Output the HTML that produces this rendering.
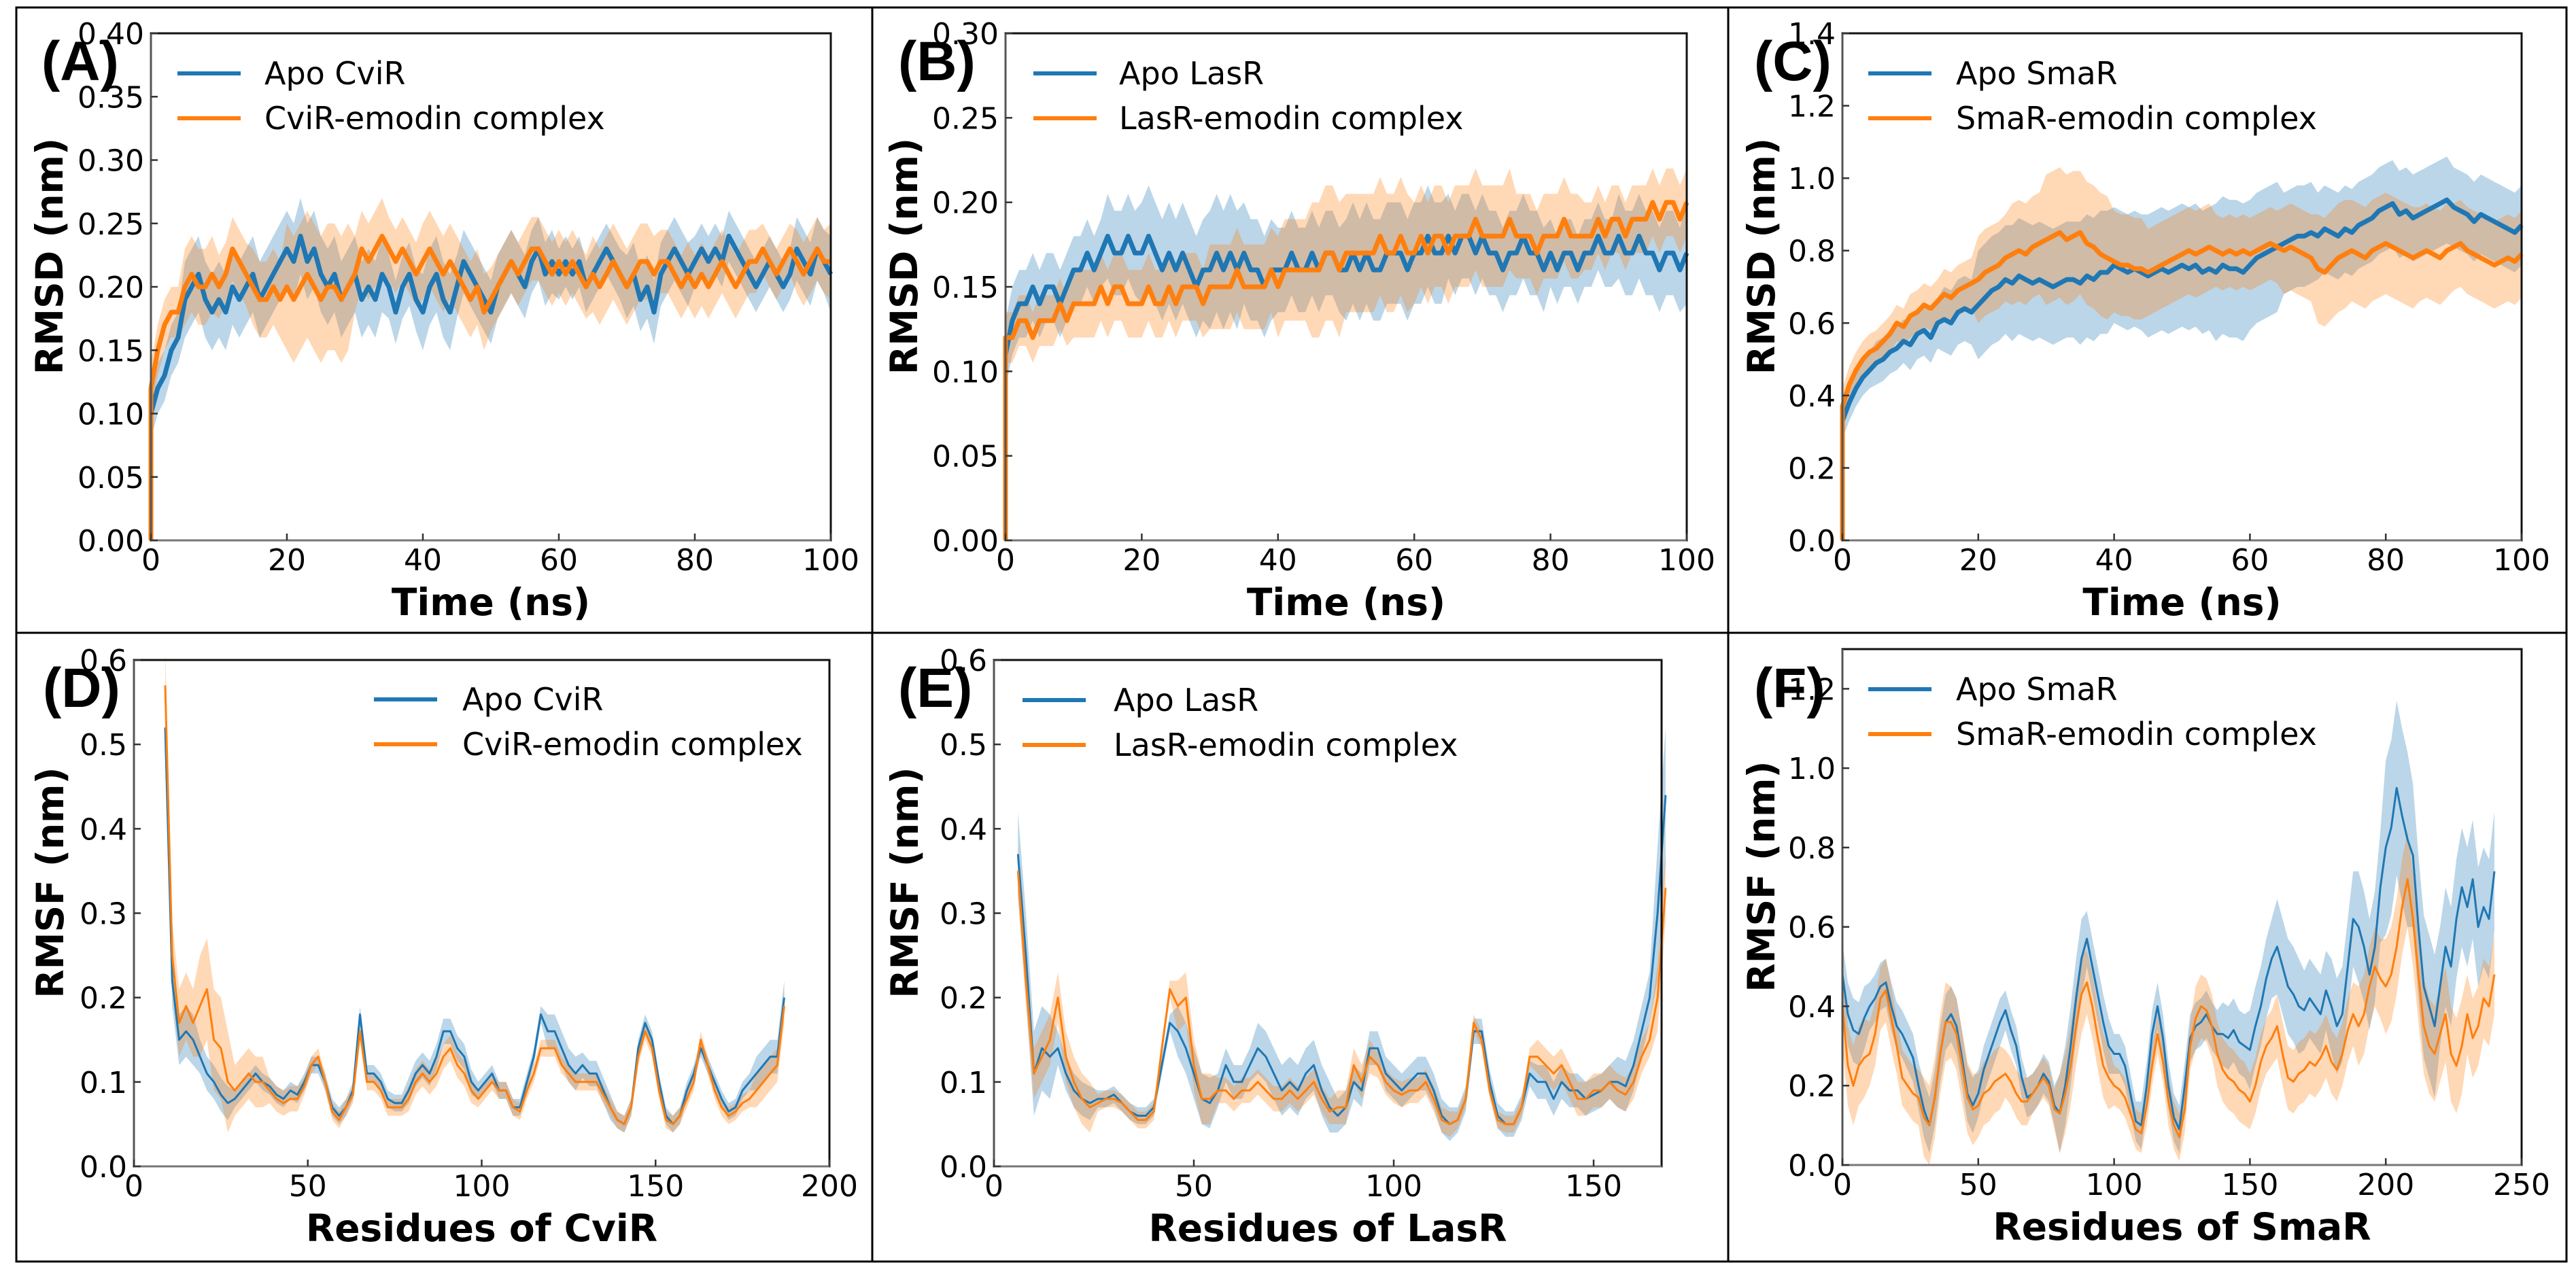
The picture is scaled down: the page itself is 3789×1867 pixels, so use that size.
<!DOCTYPE html>
<html><head><meta charset="utf-8"><style>
html,body{margin:0;padding:0;background:#fff;}
svg{display:block;}
text{font-family:"DejaVu Sans","Liberation Sans",sans-serif;fill:#000;}
</style></head><body>
<svg id="fig" width="3789" height="1867" viewBox="0 0 3789 1867" xmlns="http://www.w3.org/2000/svg">
<rect x="0" y="0" width="3789" height="1867" fill="#fff"/>
<g stroke="#000" stroke-width="3" fill="none">
<rect x="24" y="11" width="3751" height="1845"/>
<line x1="1283" y1="11" x2="1283" y2="1856"/>
<line x1="2542" y1="11" x2="2542" y2="1856"/>
<line x1="24" y1="931" x2="3775" y2="931"/>
</g>
</svg>
<script>
// ---- Panel A data (RMSD CviR, 1 ns sampling) ----
const aApo=[0.10,0.12,0.13,0.15,0.16,0.19,0.20,0.21,0.19,0.18,0.19,0.18,0.20,0.19,0.20,0.21,0.19,0.20,0.21,0.22,0.23,0.22,0.24,0.22,0.23,0.21,0.20,0.21,0.19,0.20,0.21,0.19,0.20,0.19,0.21,0.20,0.18,0.20,0.21,0.19,0.18,0.20,0.21,0.19,0.18,0.20,0.22,0.21,0.20,0.19,0.18,0.20,0.21,0.22,0.21,0.20,0.22,0.23,0.21,0.22,0.21,0.22,0.21,0.22,0.20,0.21,0.22,0.23,0.22,0.21,0.20,0.21,0.19,0.20,0.18,0.21,0.22,0.23,0.22,0.21,0.22,0.23,0.22,0.23,0.22,0.24,0.23,0.22,0.21,0.20,0.21,0.22,0.21,0.20,0.21,0.23,0.22,0.21,0.23,0.22,0.21];
const aCpx=[0.12,0.15,0.17,0.18,0.18,0.20,0.21,0.20,0.20,0.21,0.20,0.21,0.23,0.22,0.21,0.20,0.19,0.19,0.20,0.19,0.20,0.19,0.20,0.21,0.20,0.19,0.20,0.20,0.19,0.20,0.21,0.23,0.22,0.23,0.24,0.23,0.22,0.23,0.22,0.21,0.22,0.23,0.22,0.21,0.22,0.21,0.20,0.19,0.20,0.18,0.19,0.20,0.21,0.22,0.21,0.22,0.23,0.23,0.22,0.21,0.22,0.21,0.22,0.21,0.20,0.21,0.20,0.21,0.22,0.21,0.20,0.21,0.22,0.22,0.21,0.22,0.22,0.21,0.20,0.21,0.20,0.21,0.20,0.21,0.22,0.21,0.20,0.21,0.22,0.22,0.23,0.22,0.21,0.22,0.23,0.22,0.21,0.22,0.23,0.22,0.22];
const aApoSd=[.02,.03,.03,.03,.03,.03,.03,.025,.03,.025,.025,.025,.02,.02,.025,.025,.02,.02,.02,.025,.03];
const aCpxSd=[.02,.03,.025,.03,.05,.05,.03,.025,.03,.03,.025,.025,.025,.03,.03,.025,.025,.025,.02,.025,.03];
// ---- Panel B data (RMSD LasR) ----
const bApo=[0.11,0.13,0.14,0.14,0.15,0.14,0.15,0.15,0.14,0.15,0.16,0.16,0.17,0.16,0.17,0.18,0.17,0.17,0.18,0.17,0.17,0.18,0.17,0.16,0.17,0.16,0.17,0.16,0.15,0.16,0.16,0.17,0.16,0.17,0.16,0.17,0.16,0.16,0.15,0.16,0.16,0.16,0.17,0.16,0.16,0.17,0.16,0.17,0.17,0.16,0.16,0.17,0.16,0.17,0.16,0.16,0.17,0.17,0.17,0.16,0.17,0.17,0.18,0.17,0.17,0.18,0.17,0.18,0.18,0.17,0.18,0.17,0.17,0.16,0.17,0.17,0.18,0.17,0.17,0.16,0.17,0.16,0.17,0.17,0.16,0.17,0.17,0.18,0.17,0.17,0.18,0.17,0.17,0.18,0.17,0.17,0.16,0.17,0.17,0.16,0.17];
const bCpx=[0.12,0.12,0.13,0.13,0.12,0.13,0.13,0.13,0.14,0.13,0.14,0.14,0.14,0.14,0.15,0.14,0.15,0.15,0.14,0.14,0.14,0.15,0.14,0.14,0.15,0.14,0.15,0.15,0.15,0.14,0.15,0.15,0.15,0.15,0.16,0.15,0.15,0.15,0.15,0.16,0.15,0.16,0.16,0.16,0.16,0.16,0.16,0.17,0.17,0.16,0.17,0.17,0.17,0.17,0.17,0.18,0.17,0.17,0.18,0.17,0.17,0.18,0.17,0.18,0.18,0.17,0.18,0.18,0.18,0.19,0.18,0.18,0.18,0.18,0.19,0.18,0.18,0.18,0.17,0.18,0.18,0.18,0.19,0.18,0.18,0.18,0.18,0.19,0.18,0.19,0.19,0.18,0.19,0.19,0.19,0.20,0.19,0.20,0.20,0.19,0.20];
const bApoSd=[.02,.02,.02,.025,.03,.03,.035,.03,.025,.025,.03,.03,.03,.025,.025,.025,.02,.02,.025,.025,.03];
const bCpxSd=[.015,.015,.02,.02,.02,.02,.025,.025,.03,.04,.035,.035,.03,.03,.03,.025,.025,.02,.02,.02,.02];
// ---- Panel C data (RMSD SmaR) ----
const cApo=[0.33,0.38,0.42,0.45,0.47,0.49,0.50,0.52,0.53,0.55,0.54,0.57,0.58,0.56,0.60,0.61,0.60,0.63,0.64,0.63,0.65,0.67,0.69,0.70,0.72,0.71,0.73,0.72,0.71,0.72,0.71,0.70,0.71,0.72,0.72,0.71,0.73,0.72,0.74,0.74,0.76,0.75,0.74,0.75,0.74,0.73,0.74,0.75,0.74,0.75,0.76,0.75,0.76,0.74,0.75,0.74,0.76,0.75,0.75,0.74,0.76,0.78,0.79,0.80,0.81,0.82,0.83,0.84,0.84,0.85,0.84,0.86,0.85,0.84,0.86,0.85,0.87,0.88,0.89,0.91,0.92,0.93,0.90,0.91,0.89,0.90,0.91,0.92,0.93,0.94,0.92,0.91,0.90,0.88,0.90,0.89,0.88,0.87,0.86,0.85,0.87];
const cCpx=[0.37,0.43,0.47,0.50,0.52,0.53,0.55,0.57,0.60,0.59,0.62,0.63,0.65,0.64,0.66,0.68,0.67,0.69,0.70,0.71,0.72,0.74,0.75,0.76,0.78,0.79,0.80,0.79,0.81,0.82,0.83,0.84,0.85,0.83,0.84,0.85,0.82,0.81,0.79,0.78,0.77,0.76,0.76,0.75,0.75,0.74,0.75,0.76,0.77,0.78,0.79,0.80,0.79,0.80,0.81,0.80,0.79,0.80,0.79,0.80,0.79,0.80,0.81,0.82,0.81,0.80,0.81,0.80,0.79,0.78,0.75,0.74,0.76,0.78,0.79,0.80,0.79,0.78,0.80,0.81,0.82,0.81,0.80,0.79,0.78,0.79,0.80,0.79,0.78,0.80,0.81,0.82,0.80,0.79,0.78,0.77,0.76,0.77,0.78,0.77,0.79];
const cApoSd=[.05,.06,.07,.09,.15,.16,.16,.17,.16,.17,.17,.19,.18,.14,.12,.12,.12,.12,.11,.11,.11];
const cCpxSd=[.05,.05,.06,.07,.12,.14,.18,.17,.14,.12,.12,.10,.10,.12,.15,.14,.14,.13,.12,.12,.12];
// ---- Panel D data (RMSF CviR, residues 9..187 step 2) ----
const dApo=[0.52,0.22,0.15,0.16,0.15,0.13,0.11,0.10,0.085,0.075,0.08,0.09,0.10,0.11,0.10,0.095,0.085,0.08,0.09,0.085,0.10,0.12,0.12,0.10,0.07,0.06,0.07,0.09,0.18,0.11,0.11,0.10,0.08,0.075,0.075,0.09,0.11,0.12,0.11,0.13,0.16,0.16,0.14,0.13,0.10,0.09,0.10,0.11,0.09,0.09,0.07,0.07,0.10,0.13,0.18,0.16,0.16,0.14,0.12,0.11,0.12,0.11,0.11,0.09,0.07,0.055,0.05,0.07,0.14,0.17,0.15,0.10,0.06,0.05,0.06,0.09,0.11,0.14,0.12,0.10,0.08,0.065,0.07,0.09,0.10,0.11,0.12,0.13,0.13,0.20];
const dCpx=[0.57,0.25,0.17,0.19,0.17,0.19,0.21,0.15,0.14,0.10,0.09,0.10,0.11,0.10,0.10,0.09,0.08,0.075,0.08,0.08,0.095,0.12,0.13,0.10,0.065,0.055,0.07,0.085,0.16,0.10,0.10,0.09,0.07,0.07,0.07,0.08,0.10,0.11,0.10,0.11,0.13,0.14,0.12,0.11,0.09,0.08,0.09,0.10,0.09,0.09,0.07,0.065,0.09,0.11,0.14,0.14,0.14,0.12,0.11,0.10,0.10,0.10,0.10,0.085,0.07,0.055,0.05,0.07,0.13,0.16,0.14,0.09,0.055,0.05,0.06,0.08,0.10,0.15,0.12,0.09,0.07,0.06,0.065,0.075,0.08,0.09,0.10,0.11,0.12,0.19];
const dApoSd=[.03,.02,.01,.01,.01,.01,.01,.015,.015,.01,.01,.02,.015,.01,.01,.01,.01,.02];
const dCpxSd=[.04,.06,.03,.015,.01,.01,.01,.015,.015,.01,.01,.01,.01,.01,.01,.01,.01,.02];
// ---- Panel E data (RMSF LasR, residues 6..168 step 2) ----
const eApo=[0.37,0.25,0.11,0.14,0.13,0.14,0.11,0.09,0.08,0.075,0.08,0.08,0.085,0.075,0.065,0.06,0.06,0.07,0.12,0.17,0.16,0.14,0.11,0.08,0.075,0.09,0.12,0.10,0.10,0.12,0.14,0.13,0.11,0.09,0.10,0.09,0.11,0.12,0.09,0.07,0.06,0.07,0.10,0.09,0.14,0.14,0.11,0.10,0.09,0.10,0.11,0.11,0.09,0.06,0.05,0.055,0.08,0.16,0.16,0.10,0.06,0.05,0.05,0.07,0.11,0.10,0.10,0.08,0.10,0.09,0.09,0.08,0.085,0.09,0.10,0.10,0.095,0.12,0.16,0.20,0.30,0.44];
const eCpx=[0.35,0.22,0.11,0.13,0.15,0.20,0.13,0.10,0.08,0.07,0.075,0.08,0.08,0.075,0.065,0.055,0.055,0.065,0.14,0.21,0.19,0.20,0.12,0.08,0.08,0.09,0.09,0.08,0.09,0.09,0.10,0.09,0.08,0.08,0.09,0.08,0.09,0.10,0.08,0.065,0.07,0.07,0.12,0.10,0.13,0.12,0.10,0.09,0.085,0.09,0.09,0.10,0.08,0.055,0.05,0.055,0.08,0.17,0.15,0.09,0.055,0.05,0.05,0.07,0.13,0.13,0.12,0.11,0.12,0.10,0.08,0.08,0.09,0.09,0.10,0.09,0.085,0.10,0.13,0.15,0.20,0.33];
const eApoSd=[.05,.02,.01,.01,.03,.02,.03,.03,.02,.02,.02,.015,.015,.02,.02,.03,.08];
const eCpxSd=[.03,.03,.01,.01,.03,.015,.015,.015,.02,.015,.015,.01,.01,.02,.02,.02,.04];
// ---- Panel F data (RMSF SmaR, residues 0..240 step 2) ----
const fApo=[0.48,0.38,0.34,0.33,0.37,0.40,0.42,0.45,0.46,0.40,0.35,0.33,0.30,0.27,0.20,0.14,0.10,0.17,0.28,0.36,0.38,0.35,0.27,0.18,0.15,0.18,0.24,0.28,0.32,0.36,0.39,0.34,0.30,0.22,0.17,0.18,0.20,0.23,0.21,0.15,0.13,0.20,0.30,0.42,0.52,0.57,0.50,0.43,0.36,0.30,0.28,0.28,0.25,0.18,0.11,0.10,0.20,0.33,0.40,0.32,0.20,0.12,0.09,0.20,0.32,0.35,0.36,0.38,0.35,0.33,0.33,0.32,0.34,0.31,0.30,0.29,0.35,0.40,0.47,0.52,0.55,0.50,0.45,0.43,0.40,0.39,0.42,0.40,0.38,0.44,0.40,0.35,0.38,0.50,0.62,0.60,0.55,0.48,0.55,0.70,0.80,0.85,0.95,0.88,0.82,0.78,0.60,0.45,0.40,0.35,0.45,0.55,0.50,0.62,0.70,0.65,0.72,0.60,0.65,0.62,0.74];
const fCpx=[0.40,0.25,0.20,0.25,0.27,0.28,0.33,0.42,0.44,0.37,0.30,0.22,0.20,0.18,0.17,0.12,0.10,0.17,0.28,0.36,0.36,0.33,0.25,0.17,0.14,0.15,0.18,0.19,0.21,0.22,0.23,0.21,0.18,0.16,0.16,0.18,0.20,0.22,0.20,0.14,0.13,0.18,0.25,0.35,0.43,0.46,0.40,0.32,0.25,0.22,0.20,0.19,0.17,0.13,0.09,0.08,0.15,0.25,0.33,0.26,0.16,0.10,0.07,0.14,0.30,0.37,0.40,0.39,0.35,0.28,0.24,0.22,0.21,0.19,0.18,0.16,0.20,0.26,0.30,0.32,0.35,0.28,0.22,0.21,0.23,0.24,0.26,0.25,0.27,0.30,0.26,0.24,0.28,0.34,0.38,0.35,0.38,0.45,0.50,0.47,0.45,0.48,0.55,0.65,0.72,0.62,0.48,0.35,0.30,0.28,0.33,0.38,0.28,0.25,0.30,0.38,0.32,0.35,0.42,0.40,0.48];
const fApoSd=[.08,.06,.06,.07,.07,.06,.05,.05,.10,.07,.05,.06,.06,.06,.08,.10,.12,.10,.12,.14,.22,.18,.15,.15,.15];
const fCpxSd=[.10,.08,.07,.10,.09,.08,.06,.05,.10,.08,.05,.05,.06,.08,.08,.07,.08,.08,.08,.10,.12,.12,.12,.10,.10];
// ---- tick labels ----
const ticksA=["0.00","0.05","0.10","0.15","0.20","0.25","0.30","0.35","0.40"];
const ticksB=["0.00","0.05","0.10","0.15","0.20","0.25","0.30"];
const ticksC=["0.0","0.2","0.4","0.6","0.8","1.0","1.2","1.4"];
const ticksD=["0.0","0.1","0.2","0.3","0.4","0.5","0.6"];
const ticksF=["0.0","0.2","0.4","0.6","0.8","1.0","1.2"];
const ticksTime=["0","20","40","60","80","100"];
const ticksD_x=["0","50","100","150","200"];
const ticksE_x=["0","50","100","150"];
const ticksF_x=["0","50","100","150","200","250"];

const NS="http://www.w3.org/2000/svg";
const svg=document.getElementById('fig');
const BLUE="#1f77b4", ORANGE="#ff7f0e";
function mk(tag,attrs,parent){const e=document.createElementNS(NS,tag);for(const k in attrs)e.setAttribute(k,attrs[k]);(parent||svg).appendChild(e);return e;}

const panels=[
 {id:'a',L:222,R:1222,T:49,B:795,xmax:100,ymax:0.40,yt:ticksA,xt:ticksTime,apo:aApo,cpx:aCpx,apoSd:aApoSd,cpxSd:aCpxSd,x0:0,step:1,blk:5,lw:7,rmsd:true,
  lab:'(A)',labX:61,labY:118,yTitle:'RMSD (nm)',yTitleX:72,xTitle:'Time (ns)',legLine:261,legText:389,legY:108,n1:'Apo CviR',n2:'CviR-emodin complex'},
 {id:'b',L:1479,R:2481,T:49,B:795,xmax:100,ymax:0.30,yt:ticksB,xt:ticksTime,apo:bApo,cpx:bCpx,apoSd:bApoSd,cpxSd:bCpxSd,x0:0,step:1,blk:5,lw:7,rmsd:true,
  lab:'(B)',labX:1321,labY:118,yTitle:'RMSD (nm)',yTitleX:1329,xTitle:'Time (ns)',legLine:1520,legText:1646,legY:108,n1:'Apo LasR',n2:'LasR-emodin complex'},
 {id:'c',L:2710,R:3709,T:49,B:795,xmax:100,ymax:1.4,yt:ticksC,xt:ticksTime,apo:cApo,cpx:cCpx,apoSd:cApoSd,cpxSd:cCpxSd,x0:0,step:1,blk:5,lw:7,rmsd:true,
  lab:'(C)',labX:2580,labY:118,yTitle:'RMSD (nm)',yTitleX:2590,xTitle:'Time (ns)',legLine:2748,legText:2877,legY:108,n1:'Apo SmaR',n2:'SmaR-emodin complex'},
 {id:'d',L:197,R:1220,T:971,B:1716,xmax:200,ymax:0.6,yt:ticksD,xt:ticksD_x,apo:dApo,cpx:dCpx,apoSd:dApoSd,cpxSd:dCpxSd,x0:9,step:2,blk:5,lw:3,rmsd:false,
  lab:'(D)',labX:63,labY:1040,yTitle:'RMSF (nm)',yTitleX:73,xTitle:'Residues of CviR',legLine:550,legText:680,legY:1029,n1:'Apo CviR',n2:'CviR-emodin complex'},
 {id:'e',L:1462,R:2444,T:971,B:1716,xmax:167,ymax:0.6,yt:ticksD,xt:ticksE_x,apo:eApo,cpx:eCpx,apoSd:eApoSd,cpxSd:eCpxSd,x0:6,step:2,blk:5,lw:3,rmsd:false,
  lab:'(E)',labX:1321,labY:1040,yTitle:'RMSF (nm)',yTitleX:1330,xTitle:'Residues of LasR',legLine:1504,legText:1638,legY:1030,n1:'Apo LasR',n2:'LasR-emodin complex'},
 {id:'f',L:2710,R:3709,T:955,B:1714,xmax:250,ymax:1.3,yt:ticksF,xt:ticksF_x,apo:fApo,cpx:fCpx,apoSd:fApoSd,cpxSd:fCpxSd,x0:0,step:2,blk:5,lw:3,rmsd:false,
  lab:'(F)',labX:2580,labY:1040,yTitle:'RMSF (nm)',yTitleX:2590,xTitle:'Residues of SmaR',legLine:2748,legText:2877,legY:1014,n1:'Apo SmaR',n2:'SmaR-emodin complex'}
];

panels.forEach(p=>{
  const g=mk('g',{});
  
  
  const sx=v=>p.L+(v/p.xmax)*(p.R-p.L);
  const sy=v=>p.B-(v/p.ymax)*(p.B-p.T);
  const xs=i=>p.x0+p.step*i;
  function band(vals,sd,color,name){
    let up=[],dn=[];
    vals.forEach((v,i)=>{const s=sd[Math.min(sd.length-1,Math.floor(i/p.blk))];up.push(sx(xs(i)).toFixed(1)+','+sy(v+s).toFixed(1));dn.unshift(sx(xs(i)).toFixed(1)+','+sy(Math.max(0,v-s)).toFixed(1));});
    const e=mk('polygon',{points:up.concat(dn).join(' '),fill:color,'fill-opacity':0.3,stroke:'none'},g);
    
    
  }
  function line(vals,color,name){
    const pts=vals.map((v,i)=>sx(xs(i)).toFixed(1)+','+sy(v).toFixed(1));
    if(p.rmsd){pts.unshift(sx(0).toFixed(1)+','+sy(0).toFixed(1));}
    const e=mk('polyline',{points:pts.join(' '),fill:'none',stroke:color,'stroke-width':p.lw,'stroke-linejoin':'round'},g);
    
    
  }
  band(p.apo,p.apoSd,BLUE,'apo-band');
  band(p.cpx,p.cpxSd,ORANGE,'complex-band');
  line(p.apo,BLUE,'apo-line');
  line(p.cpx,ORANGE,'complex-line');
  const fr=mk('path',{d:`M${p.L},${p.B} L${p.L},${p.T} L${p.R},${p.T} L${p.R},${p.B} Z`,fill:'none',stroke:'#111','stroke-width':3},g);
  
  
  mk('line',{x1:p.L,y1:p.B,x2:p.R,y2:p.B,stroke:'#777','stroke-width':3},g);
  mk('line',{x1:p.L,y1:p.B,x2:p.L,y2:p.T,stroke:'#555','stroke-width':3},g);
  p.yt.forEach(t=>{
    const v=parseFloat(t);const y=sy(v);
    mk('line',{x1:p.L,y1:y,x2:p.L+10,y2:y,stroke:'#333','stroke-width':2.5},g);
    const e=mk('text',{x:p.L-10,y:y+16,'font-size':44,'text-anchor':'end'},g);
    e.textContent=t;
    
    
  });
  p.xt.forEach(t=>{
    const v=parseFloat(t);const x=sx(v);
    mk('line',{x1:x,y1:p.B,x2:x,y2:p.B-10,stroke:'#333','stroke-width':2.5},g);
    const e=mk('text',{x:x,y:p.B+44,'font-size':44,'text-anchor':'middle'},g);
    e.textContent=t;
    
    
  });
  const xt=mk('text',{x:(p.L+p.R)/2,y:p.B+110,'font-size':55,'font-weight':'bold','text-anchor':'middle'},g);
  xt.textContent=p.xTitle;
  
  
  const ymid=(p.T+p.B)/2-45;
  const yt=mk('text',{x:0,y:0,'font-size':55,'font-weight':'bold','text-anchor':'middle',transform:`translate(${p.yTitleX+20},${ymid}) rotate(-90)`},g);
  yt.textContent=p.yTitle;
  
  
  const lg=mk('g',{},g);
  
  
  [[p.n1,BLUE],[p.n2,ORANGE]].forEach((it,k)=>{
    const y=p.legY+k*66;
    mk('line',{x1:p.legLine,y1:y,x2:p.legLine+93,y2:y,stroke:it[1],'stroke-width':6},lg);
    const e=mk('text',{x:p.legText,y:y+16,'font-size':46},lg);
    e.textContent=it[0];
    
    
  });
  const pl=mk('text',{x:p.labX,y:p.labY,'font-size':82,'font-weight':'bold',style:'font-family:"Liberation Sans",sans-serif'},g);
  pl.textContent=p.lab;
  
  
});
</script>
</body></html>
